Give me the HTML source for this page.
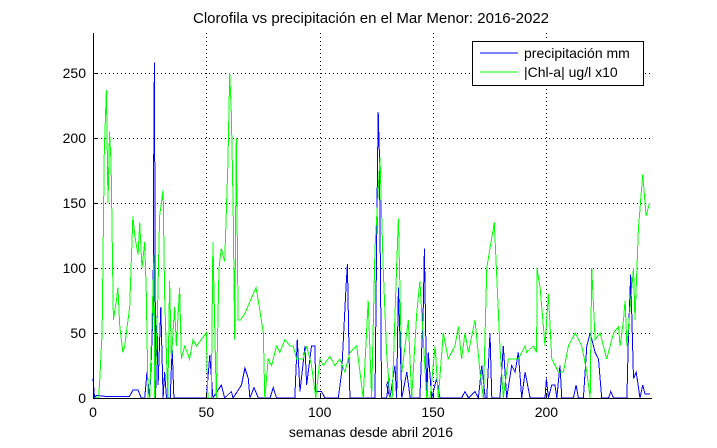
<!DOCTYPE html>
<html><head><meta charset="utf-8"><style>
body{margin:0;background:#fff;}
svg{display:block;font-family:"Liberation Sans",sans-serif;}
</style></head><body>
<svg id="s" width="717" height="448" xmlns="http://www.w3.org/2000/svg">
<rect width="717" height="448" fill="#fff"/>
<text x="371" y="23" font-size="15" text-anchor="middle">Clorofila vs precipitación en el Mar Menor: 2016-2022</text>
<g id="grid" stroke="#000" stroke-width="1" stroke-dasharray="1,3"></g>
<g id="ser"></g>
<g stroke="#000" stroke-width="1">
<line x1="93.5" y1="33" x2="93.5" y2="398"/>
<line x1="93" y1="398.5" x2="652" y2="398.5"/>
</g>
<g id="ticks" stroke="#000"></g>
<g id="lab" font-size="14"></g>
<text x="371" y="437" font-size="14" text-anchor="middle">semanas desde abril 2016</text>
<rect x="472.5" y="41.5" width="171" height="44" fill="#fff" stroke="#000"/>
<line x1="480" y1="53" x2="518" y2="53" stroke="#0000ff"/>
<line x1="480" y1="72" x2="518" y2="72" stroke="#00ff00"/>
<text x="524" y="58" font-size="14">precipitación mm</text>
<text x="524" y="77" font-size="14">|Chl-a| ug/l x10</text>
</svg>
<script>
var X=function(w){return 93+w*2.267},Y=function(v){return 398-v*1.3};
var NS="http://www.w3.org/2000/svg";
function el(p,t,a){var e=document.createElementNS(NS,t);for(var k in a)e.setAttribute(k,a[k]);p.appendChild(e);return e;}
var g=document.getElementById('grid'),tk=document.getElementById('ticks'),lb=document.getElementById('lab');
for(var w=50;w<=200;w+=50){var x=Math.round(X(w))+0.5;el(g,'line',{x1:x,y1:33,x2:x,y2:398});el(tk,'line',{x1:x,y1:398,x2:x,y2:393});}
for(var w=0;w<=200;w+=50){var t=el(lb,'text',{x:X(w),y:417,'text-anchor':'middle'});t.textContent=w;}
for(var v=50;v<=250;v+=50){var y=Math.round(Y(v))+0.5;el(g,'line',{x1:93,y1:y,x2:650,y2:y});el(tk,'line',{x1:93,y1:y,x2:98,y2:y});}
for(var v=0;v<=250;v+=50){var t=el(lb,'text',{x:86,y:Y(v)+5,'text-anchor':'end'});t.textContent=v;}
var G=[[0,0],[2.5,0],[3,15],[4,50],[5,190],[5.9,237],[6.6,150],[7.3,205],[8,180],[9,60],[10.3,75],[11,85],[11.8,55],[13.2,35],[14,40],[16.2,70],[17.6,140],[18.4,125],[19.9,110],[20.6,135],[21.6,100],[22.8,120],[23.5,80],[24.3,0],[25,0],[26.9,110],[27.2,0],[28.5,70],[29.4,140],[30.9,160],[31.6,80],[33,0],[33.8,90],[34.6,30],[36,70],[36.8,40],[38.2,85],[39,30],[40.4,40],[42.6,30],[44.1,45],[45.6,40],[47.8,45],[50,50],[50.7,0],[52.2,0],[52.9,120],[54.4,0],[55.6,100],[56.6,115],[58.1,105],[59.5,180],[60.3,250],[61,220],[61.8,150],[62.5,45],[63.2,200],[64,60],[65,60],[67,65],[71.9,85],[72.9,75],[75.1,50],[75.8,0],[77.3,30],[78.8,25],[81,40],[82.4,35],[84.7,45],[86.9,40],[88.3,40],[89.8,30],[92.7,30],[94.2,40],[96.4,25],[98.3,0],[100.1,30],[101.6,25],[104.5,32],[106.7,25],[108.9,30],[111.1,20],[113.3,35],[116.3,40],[119.2,0],[121.4,75],[122.9,0],[124.4,115],[126.6,185],[128,100],[129.5,35],[131,0],[132,0],[133.9,100],[134.7,138],[136.2,20],[139.1,60],[140.6,0],[142.8,65],[144.2,90],[147.2,0],[148.7,0],[150.9,40],[152.3,0],[154.5,50],[156.7,30],[159.7,40],[161.2,55],[162.6,30],[164.1,50],[165.6,35],[168.5,60],[170.7,20],[172.2,0],[173.7,100],[177,135],[179.5,40],[181,0],[183.2,30],[187.6,30],[190.6,40],[191.3,35],[194.2,40],[195.7,35],[195.8,100],[197.2,85],[199.4,40],[200.9,80],[202.4,30],[205.3,20],[207.5,20],[209.7,40],[212.7,50],[215.6,40],[217.8,20],[219.3,0],[220,100],[221.5,45],[223.7,50],[226.6,30],[229.6,50],[231.8,55],[232.5,40],[234,60],[234.7,75],[235.5,40],[238.4,100],[239.1,60],[240.6,130],[242.5,172],[244,140],[245.5,150]];
var B=[[0,15],[0.7,0],[1.5,2],[7,1],[16,1],[17.6,6],[19.9,6],[21.3,0],[22.8,0],[23.8,20],[25,0],[25.7,30],[26.5,70],[26.8,195],[27.1,258],[27.6,0],[28.2,63],[28.7,10],[29.9,70],[30.9,0],[31.6,20],[32.4,0],[34.1,0],[34.9,40],[35.7,0],[50,0],[51.5,33],[52.9,0],[56.6,10],[58.1,0],[61,5],[61.8,0],[65.5,10],[67,23],[68.5,15],[69.2,0],[71,8],[72.9,0],[78.1,0],[79.5,8],[81,0],[89,0],[90.1,45],[91.3,5],[93.5,40],[94.2,10],[96.4,40],[97.9,40],[98.3,5],[100.1,5],[100.8,5],[102.3,0],[108.2,0],[109.7,20],[111.6,85],[112.2,103],[113.3,0],[124.4,0],[125.4,165],[125.8,220],[126.3,190],[127.3,0],[129.5,0],[130.7,15],[129.5,10],[131,0],[133.2,25],[133.9,0],[134.7,85],[136.2,0],[138.4,20],[139.9,0],[144.2,0],[145.7,70],[146.2,115],[147.2,0],[147.9,35],[149.4,0],[151.6,15],[153,0],[162.6,0],[164.1,5],[165.6,0],[168.5,5],[170,0],[171.5,25],[173,0],[173.7,0],[175.1,50],[175.9,0],[179.5,0],[181,40],[182.5,0],[184.7,25],[186.2,20],[187.6,35],[189.1,0],[190.6,20],[192.8,0],[199.4,0],[200,15],[200.9,0],[202.4,10],[203.8,10],[204.6,0],[206,25],[206.8,0],[211.9,0],[213.1,10],[214.1,0],[216.3,0],[217.8,40],[219.3,50],[221.5,35],[223,30],[224.4,0],[227.4,0],[228.4,5],[229.6,0],[235.5,0],[236.2,50],[237.2,95],[238.4,15],[239.6,20],[241.3,0],[242.5,10],[243.5,3],[245.7,3]];
var s=document.getElementById('ser');
function pl(d,c){el(s,'polyline',{points:d.map(function(p){return X(p[0]).toFixed(1)+','+Y(p[1]).toFixed(1)}).join(' '),fill:'none',stroke:c,'stroke-width':1,'shape-rendering':'crispEdges'});}
pl(B,'#0000ff');pl(G,'#00ff00');
</script>
</body></html>
